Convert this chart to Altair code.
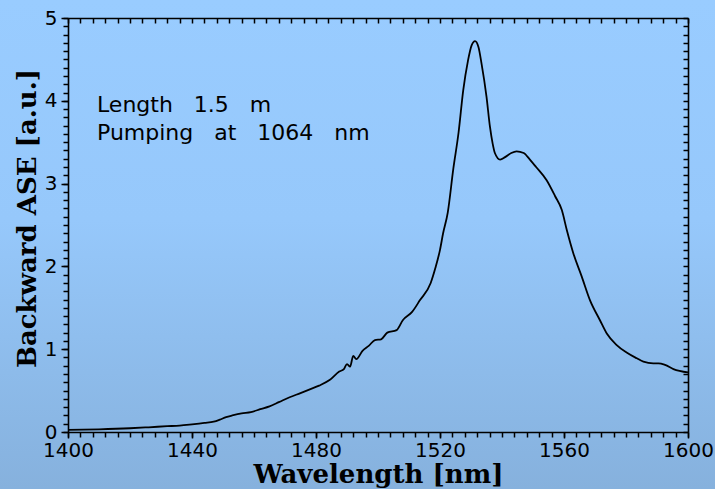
import altair as alt
import pandas as pd

# Backward ASE spectrum, 1.5 m fibre pumped at 1064 nm
wavelength = [1400, 1410, 1420, 1426, 1432, 1436, 1440, 1444, 1447, 1449,
              1451, 1453, 1456, 1459, 1462, 1465, 1468, 1471.5, 1475, 1478,
              1481, 1484.5, 1487.5, 1489, 1490, 1491, 1492, 1493, 1495, 1497,
              1499, 1501, 1503, 1506, 1508, 1511, 1513.5, 1517, 1518.5, 1520,
              1521, 1522.5, 1524.3, 1526, 1527.5, 1529, 1530.2, 1531.3, 1532.4, 1533.4,
              1535, 1536.1, 1537, 1537.7, 1539.4, 1541, 1543, 1544.7, 1547, 1549,
              1551, 1554.4, 1557.1, 1559.3, 1560.9, 1563, 1565.7, 1568.4, 1571.6, 1573.8,
              1577, 1580.2, 1583.5, 1585.6, 1588.8, 1590.5, 1592.6, 1595.3, 1600]
backward_ase = [0.025, 0.032, 0.045, 0.057, 0.070, 0.078, 0.093, 0.11, 0.125, 0.15,
                0.18, 0.20, 0.225, 0.24, 0.275, 0.31, 0.36, 0.42, 0.47, 0.515,
                0.56, 0.63, 0.73, 0.76, 0.82, 0.79, 0.92, 0.88, 0.98, 1.04,
                1.11, 1.12, 1.20, 1.23, 1.35, 1.45, 1.59, 1.80, 1.98, 2.20,
                2.40, 2.65, 3.18, 3.62, 4.13, 4.48, 4.67, 4.72, 4.65, 4.45,
                4.05, 3.69, 3.48, 3.37, 3.29, 3.32, 3.37, 3.39, 3.37, 3.29,
                3.20, 3.04, 2.85, 2.68, 2.44, 2.16, 1.88, 1.59, 1.35, 1.19,
                1.05, 0.96, 0.89, 0.85, 0.83, 0.83, 0.81, 0.76, 0.72]

x_major = [1400, 1440, 1480, 1520, 1560, 1600]
x_minor = list(range(1400, 1601, 4))
y_major = [0, 1, 2, 3, 4, 5]
y_minor = [round(i * 0.1, 1) for i in range(0, 51)]
GAP = "\u00a0" * 3
notes = [GAP.join(["Length", "1.5", "m"]), GAP.join(["Pumping", "at", "1064", "nm"])]

df = pd.DataFrame({"wl": wavelength, "ase": backward_ase})

W, H = 620, 414
LABEL_FONT = "DejaVu Sans"
TITLE_FONT = "DejaVu Serif"

xs = alt.Scale(domain=[1400, 1600], nice=False, zero=False)
ys = alt.Scale(domain=[0, 5], nice=False, zero=False)

# gradient backdrop covering the whole canvas
backdrop = alt.Chart(pd.DataFrame({"d": [0]})).mark_rect(
    color=alt.LinearGradient(
        gradient="linear",
        stops=[alt.GradientStop(offset=0, color="#99ccff"),
               alt.GradientStop(offset=0.45, color="#96c8fb"),
               alt.GradientStop(offset=1, color="#86b1dd")],
        x1=0, x2=0, y1=0, y2=1),
).encode(x=alt.value(-68), x2=alt.value(647), y=alt.value(-18), y2=alt.value(471))

common_axis = dict(grid=False, domainColor="black", tickColor="black", zindex=2,
                   domainWidth=1.6, tickWidth=1.5, labelColor="black")
tick_only = {k: v for k, v in common_axis.items() if k not in ("domainColor", "domainWidth")}

# main spectrum with labelled bottom/left axes
spectrum = alt.Chart(df).mark_line(color="black", strokeWidth=1.8, interpolate="monotone").encode(
    x=alt.X("wl:Q", scale=xs, axis=alt.Axis(
        orient="bottom", values=x_major, format="d", tickSize=6, labelFont=LABEL_FONT,
        labelFontSize=20, labelPadding=2, labelFlush=False, title="Wavelength [nm]",
        titleFont=TITLE_FONT, titleFontSize=26, titleFontWeight="bold", titlePadding=1,
        titleColor="black", **common_axis)),
    y=alt.Y("ase:Q", scale=ys, axis=alt.Axis(
        orient="left", values=y_major, format="d", tickSize=7, labelFont=LABEL_FONT,
        labelFontSize=20, labelPadding=4, labelFlush=False, title="Backward ASE [a.u.]",
        titleFont=TITLE_FONT, titleFontSize=26, titleFontWeight="bold", titlePadding=4,
        titleY=200, titleColor="black", **common_axis)),
)

# minor ticks on bottom and left
minor_out = alt.Chart(df).mark_line(strokeOpacity=0).encode(
    x=alt.X("wl:Q", scale=xs, axis=alt.Axis(
        orient="bottom", values=x_minor, tickSize=5, labels=False, domain=False, title=None,
        **tick_only)),
    y=alt.Y("ase:Q", scale=ys, axis=alt.Axis(
        orient="left", values=y_minor, tickSize=5, labels=False, domain=False, title=None,
        **tick_only)),
)

# top and right frame with ticks pointing into the plot
frame_in = alt.Chart(df).mark_line(strokeOpacity=0).encode(
    x=alt.X("wl:Q", scale=xs, axis=alt.Axis(
        orient="bottom", offset=-H, values=x_minor, tickSize=5, labels=False, title=None,
        **common_axis)),
    y=alt.Y("ase:Q", scale=ys, axis=alt.Axis(
        orient="left", offset=-W, values=y_minor, tickSize=5, labels=False, title=None,
        **common_axis)),
)

note_df = pd.DataFrame({"t": notes, "row": [0, 1]})
annotation = alt.Chart(note_df).mark_text(
    align="left", baseline="alphabetic", font=LABEL_FONT, fontSize=22, color="black",
).encode(
    x=alt.value(29),
    y=alt.Y("row:Q", scale=alt.Scale(domain=[0, 1], range=[94, 122]), axis=None),
    text="t:N",
)

chart = alt.layer(backdrop, minor_out, frame_in, spectrum, annotation).resolve_scale(
    x="independent", y="independent"
).properties(
    width=W, height=H,
    autosize=alt.AutoSizeParams(type="none"),
    padding={"left": 68, "top": 18, "right": 27, "bottom": 57},
    background="#93c3f2",
).configure_view(stroke="transparent")

chart.save("out.html", embed_options={"renderer": "svg", "actions": False})
